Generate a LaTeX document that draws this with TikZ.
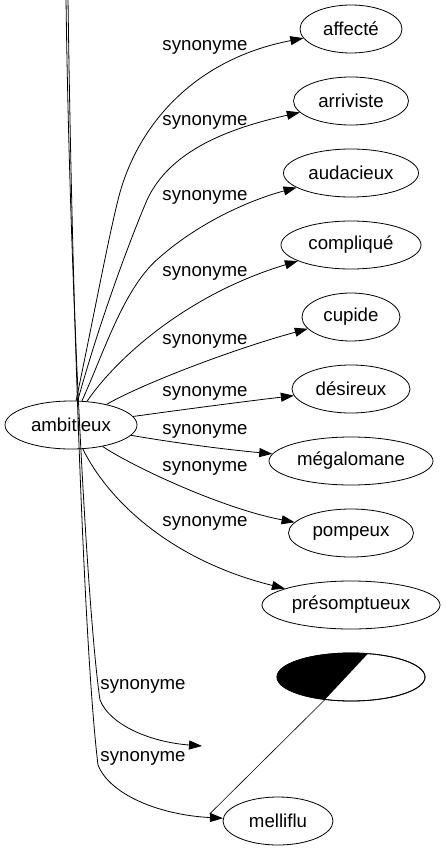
\documentclass[tikz,border=0pt]{standalone}
\usepackage{fontspec}
\setmainfont{Liberation Sans}
\usetikzlibrary{arrows.meta,shapes.geometric}

\begin{document}
\begin{tikzpicture}[x=1pt,y=-1pt,>={Triangle[length=13pt,width=9pt]},thick,
  word node/.style={ellipse,draw,inner sep=0pt,minimum height=48,font=\fontsize{18.67}{22}\selectfont},
  syn label/.style={inner sep=0pt,font=\fontsize{18.67}{22}\selectfont},
  syn edge/.style={->}]
  \useasboundingbox (0,0) rectangle (445,851);

  \node[word node,minimum width=132] (amb) at (71,425) {ambitieux};
  \node[word node,minimum width=102] (aff) at (351,29) {affecté};
  \node[word node,minimum width=115] (arr) at (351,101) {arriviste};
  \node[word node,minimum width=135] (aud) at (351,173) {audacieux};
  \node[word node,minimum width=140] (comp) at (351,245) {compliqué};
  \node[word node,minimum width=98] (cup) at (351,317) {cupide};
  \node[word node,minimum width=118] (des) at (351,389) {désireux};
  \node[word node,minimum width=164] (meg) at (351,461) {mégalomane};
  \node[word node,minimum width=125] (pom) at (351,533) {pompeux};
  \node[word node,minimum width=178] (pre) at (351,605) {présomptueux};
  \node[word node,minimum width=148] (blk) at (351,677) {};
  \node[word node,minimum width=110] (mel) at (278,821) {melliflu};

  \coordinate (src1) at (66,-2);
  \coordinate (src2) at (68,-2);
  \coordinate (gap) at (202,746);

  % half black node
  \begin{scope}
    \clip (blk.center) ellipse [x radius=74,y radius=24];
    \fill (blk.54) -- (blk.221) -- ([shift={(-90pt,-30pt)}]blk.center) -- ([shift={(-90pt,30pt)}]blk.center) -- cycle;
  \end{scope}
  \draw (blk.center) ellipse [x radius=74,y radius=24];
  \draw[semithick] (blk.221) -- ([xshift=-13pt,yshift=7pt]mel.west);

  \node[syn label] (s1) at (205,47) {synonyme};
  \node[syn label] (s2) at (205,122) {synonyme};
  \node[syn label] (s3) at (205,197) {synonyme};
  \node[syn label] (s4) at (205,273) {synonyme};
  \node[syn label] (s5) at (205,341) {synonyme};
  \node[syn label] (s6) at (205,393) {synonyme};
  \node[syn label] (s7) at (205,431) {synonyme};
  \node[syn label] (s8) at (205,468) {synonyme};
  \node[syn label] (s9) at (205,523) {synonyme};
  \node[syn label] (s10) at (143,686) {synonyme};
  \node[syn label] (s11) at (143,758) {synonyme};

  \draw[syn edge] (amb) .. controls (95,310) and (108,240) .. (118,200) .. controls (135,130) and (190,60) .. (aff);
  \draw[syn edge] (amb) .. controls (100,320) and (130,240) .. (147,200) .. controls (170,150) and (230,128) .. (arr);
  \draw[syn edge] (amb) .. controls (105,350) and (124,287) .. (160,257) .. controls (200,222) and (250,200) .. (aud);
  \draw[syn edge] (amb) .. controls (115,360) and (185,295) .. (comp);
  \draw[syn edge] (amb) .. controls (140,385) and (230,350) .. (cup);
  \draw[syn edge] (amb) .. controls (180,410) and (240,402) .. (des);
  \draw[syn edge] (amb) .. controls (170,442) and (220,449) .. (meg);
  \draw[syn edge] (amb) .. controls (130,465) and (220,508) .. (pom);
  \draw[syn edge] (amb) .. controls (108,500) and (170,560) .. (pre);
  \draw[syn edge] (src1) .. controls (70,300) and (88,620) .. (100,700) .. controls (110,725) and (150,742) .. (gap);
  \draw[syn edge] (src2) .. controls (72,300) and (84,650) .. (98,765) .. controls (110,795) and (160,815) .. (mel);
\end{tikzpicture}
\end{document}
